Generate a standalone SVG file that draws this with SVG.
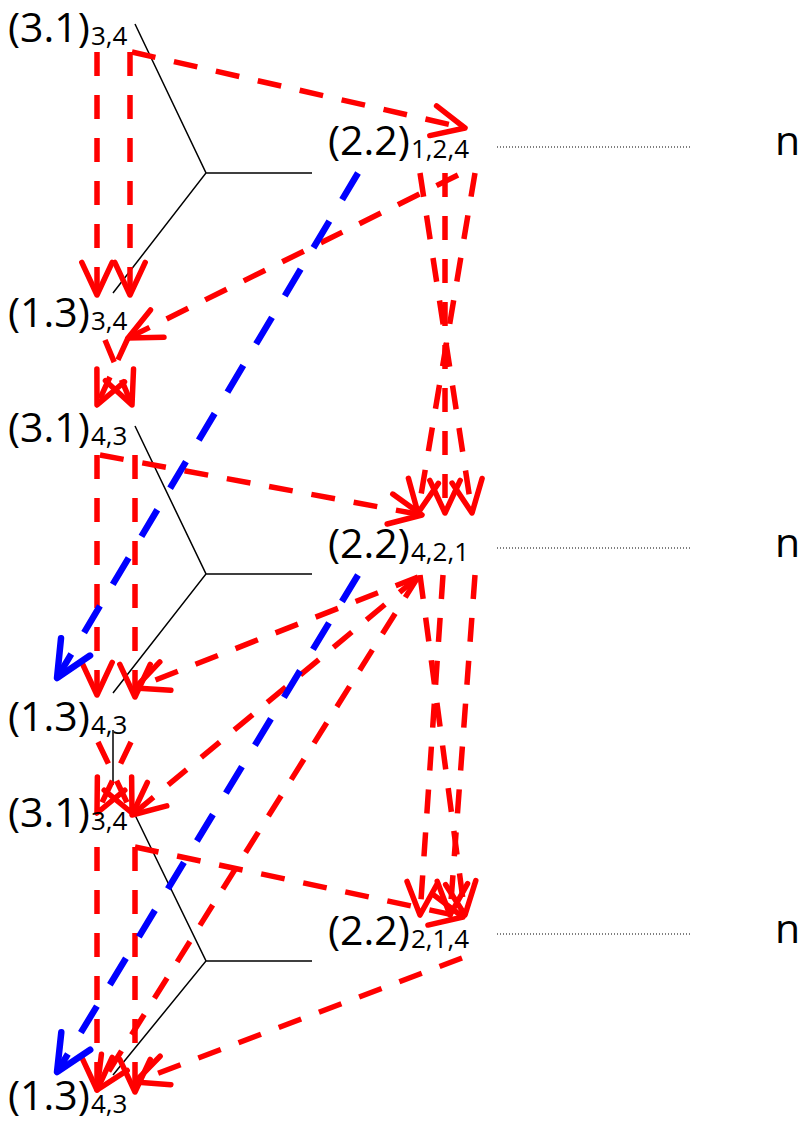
<svg xmlns="http://www.w3.org/2000/svg" width="801" height="1122" viewBox="0 0 801 1122">
<style>
text { font-family: "Open Sans", "DejaVu Sans", sans-serif; fill: #000; }
.lbl { font-size: 41px; }
.sub { font-size: 26px; }
.tree { stroke: #000; stroke-width: 1.5; fill: none; }
.dot { stroke: #000; stroke-width: 1.2; stroke-dasharray: 1 2; fill: none; }
.red { stroke: #ff0000; stroke-width: 5.5; stroke-dasharray: 24 19; fill: none; marker-end: url(#ahr); }
.blue { stroke: #0000ff; stroke-width: 6.5; stroke-dasharray: 31 25; fill: none; marker-end: url(#ahb); }
</style>
<defs>
<marker id="ahr" markerUnits="userSpaceOnUse" markerWidth="90" markerHeight="90" viewBox="-45 -45 90 90" refX="0" refY="0" orient="auto" overflow="visible">
<path d="M-32.6,-15.2 L0,0 L-32.6,15.2" fill="none" stroke="#ff0000" stroke-width="5.5" stroke-linecap="round" stroke-linejoin="round"/>
</marker>
<marker id="ahb" markerUnits="userSpaceOnUse" markerWidth="90" markerHeight="90" viewBox="-45 -45 90 90" refX="0" refY="0" orient="auto" overflow="visible">
<path d="M-36.2,-16.9 L0,0 L-36.2,16.9" fill="none" stroke="#0000ff" stroke-width="6.5" stroke-linecap="round" stroke-linejoin="round"/>
</marker>
</defs>
<rect width="801" height="1122" fill="#fff"/>

<g id="tree-lines">
<path class="tree" d="M135,24 L206,173 L113,293 M206,173 L312,173"/>
<path class="tree" d="M135,426 L206,574 L113,693 M206,574 L312,574"/>
<path class="tree" d="M113,730 L113,785"/>
<path class="tree" d="M135,815 L206,961 L113,1075 M206,961 L312,961"/>
<line class="dot" x1="497" y1="147" x2="692" y2="147"/>
<line class="dot" x1="497" y1="548" x2="692" y2="548"/>
<line class="dot" x1="497" y1="934" x2="692" y2="934"/>
</g>

<g id="connectors">
<line class="red" x1="97" y1="52" x2="97" y2="295"/>
<line class="red" x1="130" y1="52" x2="130" y2="295"/>
<line class="red" x1="132" y1="52" x2="465" y2="128"/>
<line class="red" x1="458" y1="175" x2="128" y2="338"/>
<line class="red" x1="420" y1="173" x2="472" y2="513"/>
<line class="red" x1="445" y1="173" x2="445" y2="513"/>
<line class="red" x1="475" y1="173" x2="418" y2="513"/>
<line class="red" x1="105" y1="340" x2="132" y2="405"/>
<line class="red" x1="128" y1="338" x2="97" y2="405"/>
<line class="red" x1="97" y1="455" x2="97" y2="695"/>
<line class="red" x1="135" y1="455" x2="135" y2="697"/>
<line class="red" x1="100" y1="455" x2="422" y2="515"/>
<line class="red" x1="418" y1="577" x2="135" y2="688"/>
<line class="red" x1="418" y1="577" x2="132" y2="815"/>
<line class="red" x1="418" y1="577" x2="97" y2="1090"/>
<line class="red" x1="420" y1="575" x2="465" y2="915"/>
<line class="red" x1="443" y1="575" x2="420" y2="915"/>
<line class="red" x1="475" y1="575" x2="450" y2="915"/>
<line class="red" x1="98" y1="742" x2="132" y2="813"/>
<line class="red" x1="131" y1="742" x2="97" y2="813"/>
<line class="red" x1="97" y1="847" x2="97" y2="1090"/>
<line class="red" x1="135" y1="847" x2="135" y2="1092"/>
<line class="red" x1="135" y1="847" x2="463" y2="917"/>
<line class="red" x1="462" y1="958" x2="135" y2="1082"/>
<line class="blue" x1="358" y1="173" x2="57" y2="678"/>
<line class="blue" x1="358" y1="575" x2="57" y2="1072"/>
</g>

<g id="node-a1"><text class="lbl" x="8" y="42">(3.1)</text><text class="sub" x="91" y="45">3,4</text></g>
<g id="node-b1"><text class="lbl" x="8" y="327">(1.3)</text><text class="sub" x="91" y="330">3,4</text></g>
<g id="node-a2"><text class="lbl" x="8" y="442">(3.1)</text><text class="sub" x="91" y="445">4,3</text></g>
<g id="node-b2"><text class="lbl" x="8" y="731">(1.3)</text><text class="sub" x="91" y="734">4,3</text></g>
<g id="node-a3"><text class="lbl" x="8" y="827">(3.1)</text><text class="sub" x="91" y="830">3,4</text></g>
<g id="node-b3"><text class="lbl" x="8" y="1110">(1.3)</text><text class="sub" x="91" y="1113">4,3</text></g>
<g id="node-c1"><text class="lbl" x="328" y="155">(2.2)</text><text class="sub" x="411" y="158">1,2,4</text></g>
<g id="node-c2"><text class="lbl" x="328" y="558">(2.2)</text><text class="sub" x="411" y="561">4,2,1</text></g>
<g id="node-c3"><text class="lbl" x="328" y="945">(2.2)</text><text class="sub" x="411" y="948">2,1,4</text></g>
<g id="node-n1"><text class="lbl" x="775" y="155">n</text></g>
<g id="node-n2"><text class="lbl" x="775" y="557">n</text></g>
<g id="node-n3"><text class="lbl" x="775" y="943">n</text></g>
</svg>
